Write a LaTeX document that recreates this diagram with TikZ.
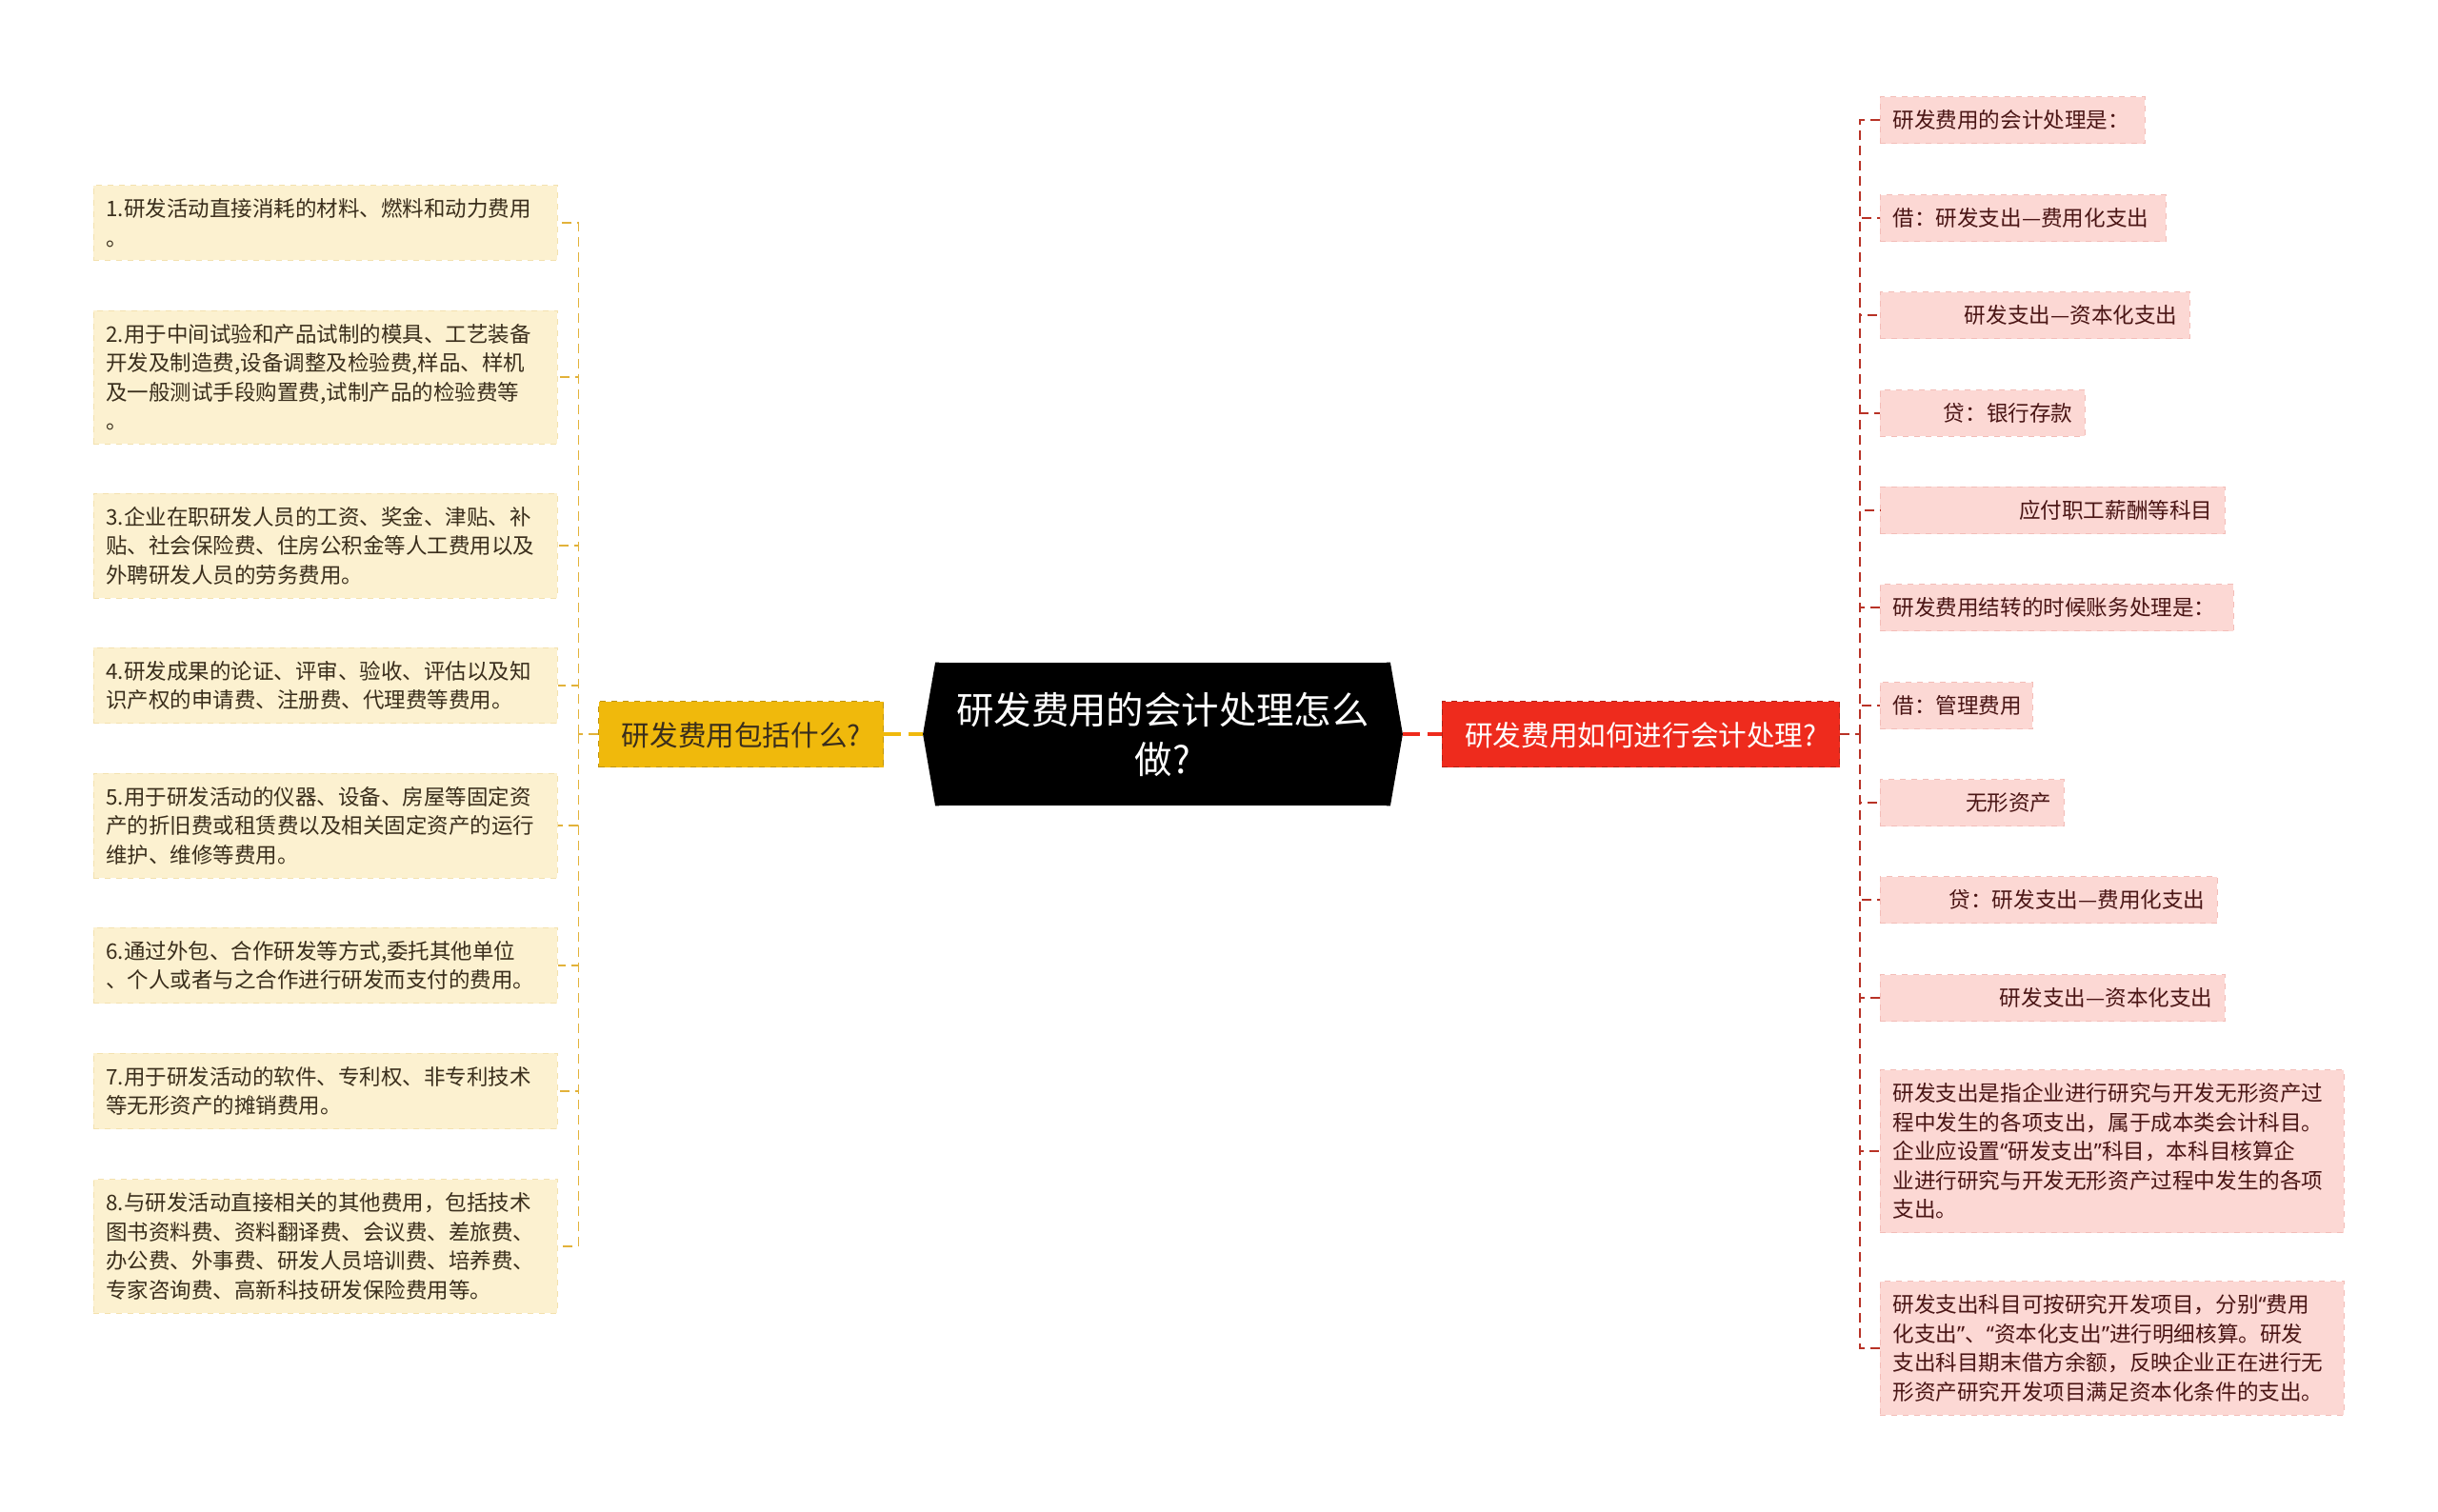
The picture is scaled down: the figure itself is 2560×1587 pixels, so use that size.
\documentclass[tikz,border=0pt]{standalone}
\usepackage{fontspec}
\setmainfont{Noto Sans CJK SC}
\newfontfamily\qfont{Noto Sans}
\newcommand{\oq}{{\qfont “}}
\newcommand{\cq}{{\qfont ”}}
\usepackage{tikz}
\usetikzlibrary{positioning,calc}
\definecolor{lfill}{HTML}{FCF1D0}
\definecolor{ledge}{HTML}{F3E1AE}
\definecolor{ltext}{HTML}{3A2E1C}
\definecolor{lcol}{HTML}{E2B23A}
\definecolor{ycol}{HTML}{F0B90C}
\definecolor{rcol}{HTML}{EE2B1D}
\definecolor{rfill}{HTML}{FCD8D4}
\definecolor{redge}{HTML}{F3BDB8}
\definecolor{rtext}{HTML}{4A1515}
\definecolor{rline}{HTML}{B83226}

\begin{document}
\begin{tikzpicture}[x=0.5pt, y=-0.5pt,
  litem/.style={fill=lfill, draw=ledge, dashed, text=ltext, anchor=west,
    font=\fontsize{11.25}{15.25}\selectfont, inner xsep=6.5pt, inner ysep=7pt,
    text width=230.5pt, align=left},
  ritem/.style={fill=rfill, draw=redge, dashed, text=rtext, anchor=west,
    font=\fontsize{11.3}{15.25}\selectfont, inner xsep=6.5pt, inner ysep=7pt,
    text width=#1, align=left},
  root/.style={fill=black, text=white, align=center, minimum width=238.5pt,
    minimum height=75pt, font=\fontsize{19.7}{26}\selectfont},
  topic/.style={dashed, text depth=0pt, minimum height=34.5pt, inner xsep=12pt,
    font=\fontsize{14.8}{18}\selectfont},
  lline/.style={lcol, line width=0.9pt, dash pattern=on 5pt off 3pt},
  rlink/.style={rline, line width=0.9pt, dash pattern=on 5pt off 3pt},
  mainline/.style={line width=1.8pt, dash pattern=on 9pt off 4pt}]
\useasboundingbox (0,0) rectangle (2560,1587);

% centre
\node[root] (root) at (1221,771) {研发费用的会计处理怎么\\做?};
\fill (root.north west) -- ([xshift=-6.5pt]root.west) coordinate (rootw)
  -- (root.south west) -- ([xshift=2pt]root.south west)
  -- ([xshift=2pt]root.north west) -- cycle;
\fill (root.north east) -- ([xshift=6.5pt]root.east) coordinate (roote)
  -- (root.south east) -- ([xshift=-2pt]root.south east)
  -- ([xshift=-2pt]root.north east) -- cycle;

\node[topic, fill=ycol, draw=ycol!80!black, text=ltext, left=27pt of root] (yq)
  {研发费用包括什么?};
\node[topic, fill=rcol, draw=rcol!75!black, text=white, right=27pt of root] (rq)
  {研发费用如何进行会计处理?};
\draw[mainline, ycol] (yq.east) -- (rootw);
\draw[mainline, rcol] (roote) -- (rq.west);

% left branch
\node[litem] (l1) at (98,234) {1.研发活动直接消耗的材料、燃料和动力费用\\。};
\node[litem] (l2) at (98,396) {2.用于中间试验和产品试制的模具、工艺装备\\开发及制造费,设备调整及检验费,样品、样机\\及一般测试手段购置费,试制产品的检验费等\\。};
\node[litem] (l3) at (98,573) {3.企业在职研发人员的工资、奖金、津贴、补\\贴、社会保险费、住房公积金等人工费用以及\\外聘研发人员的劳务费用。};
\node[litem] (l4) at (98,720) {4.研发成果的论证、评审、验收、评估以及知\\识产权的申请费、注册费、代理费等费用。};
\node[litem] (l5) at (98,867) {5.用于研发活动的仪器、设备、房屋等固定资\\产的折旧费或租赁费以及相关固定资产的运行\\维护、维修等费用。};
\node[litem] (l6) at (98,1014) {6.通过外包、合作研发等方式,委托其他单位\\、个人或者与之合作进行研发而支付的费用。};
\node[litem] (l7) at (98,1146) {7.用于研发活动的软件、专利权、非专利技术\\等无形资产的摊销费用。};
\node[litem] (l8) at (98,1309) {8.与研发活动直接相关的其他费用，包括技术\\图书资料费、资料翻译费、会议费、差旅费、\\办公费、外事费、研发人员培训费、培养费、\\专家咨询费、高新科技研发保险费用等。};

\draw[lline] (yq.west) -- ++(-21,0) coordinate (lj);
\foreach \i in {1,...,8}
  \draw[lline] (lj) |- (l\i.east);

% right branch
\node[ritem=126pt] (r1) at (1974,126) {研发费用的会计处理是：};
\node[ritem=137pt] (r2) at (1974,229) {借：研发支出—费用化支出};
\node[ritem=149.5pt, align=right] (r3) at (1974,331) {研发支出—资本化支出};
\node[ritem=94.5pt, align=right] (r4) at (1974,434) {贷：银行存款};
\node[ritem=168pt, align=right] (r5) at (1974,536) {应付职工薪酬等科目};
\node[ritem=172.5pt] (r6) at (1974,638) {研发费用结转的时候账务处理是：};
\node[ritem=67pt] (r7) at (1974,741) {借：管理费用};
\node[ritem=83.5pt, align=right] (r8) at (1974,843) {无形资产};
\node[ritem=164pt, align=right] (r9) at (1974,945) {贷：研发支出—费用化支出};
\node[ritem=168pt, align=right] (r10) at (1974,1048) {研发支出—资本化支出};
\node[ritem=230.5pt] (r11) at (1974,1209) {研发支出是指企业进行研究与开发无形资产过\\程中发生的各项支出，属于成本类会计科目。\\企业应设置\oq 研发支出\cq 科目，本科目核算企\\业进行研究与开发无形资产过程中发生的各项\\支出。};
\node[ritem=230.5pt] (r12) at (1974,1416) {研发支出科目可按研究开发项目，分别\oq 费用\\化支出\cq 、\oq 资本化支出\cq 进行明细核算。研发\\支出科目期末借方余额，反映企业正在进行无\\形资产研究开发项目满足资本化条件的支出。};

\draw[rlink] (rq.east) -- ++(21,0) coordinate (rj);
\foreach \i in {1,...,12}
  \draw[rlink] (rj) |- (r\i.west);
\end{tikzpicture}
\end{document}
